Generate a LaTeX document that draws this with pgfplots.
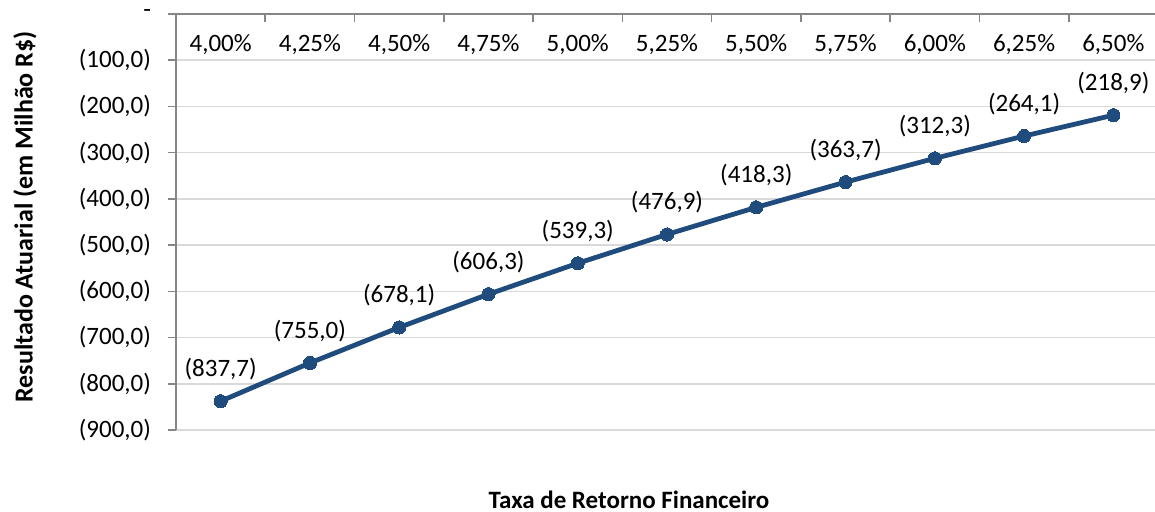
\documentclass[border=0pt]{standalone}
\usepackage{fontspec}
\setmainfont{Carlito}
\usepackage{pgfplots}
\pgfplotsset{compat=1.18}
\usepackage{pgfplotstable}
\definecolor{serie}{RGB}{31,75,125}
\definecolor{gridc}{RGB}{217,217,217}
\definecolor{axisc}{RGB}{134,134,134}
\pgfplotstableread{
x y lab
0 -837.7 (837,7)
1 -755.0 (755,0)
2 -678.1 (678,1)
3 -606.3 (606,3)
4 -539.3 (539,3)
5 -476.9 (476,9)
6 -418.3 (418,3)
7 -363.7 (363,7)
8 -312.3 (312,3)
9 -264.1 (264,1)
10 -218.9 (218,9)
}\datatable
\begin{document}
\begin{tikzpicture}[x=1pt,y=1pt,font=\fontsize{12.5}{15}\selectfont]
\path[use as bounding box] (0,0) rectangle (577.5,256);
\begin{axis}[
  at={(88pt,41pt)}, anchor=south west,
  scale only axis, width=491pt, height=208pt,
  xmin=-0.5, xmax=10.5, ymin=-900, ymax=0,
  axis x line*=top, axis y line*=left,
  axis line style={draw=axisc, line width=0.8pt},
  xtick={0,...,10},
  xticklabels={{4,00\%},{4,25\%},{4,50\%},{4,75\%},{5,00\%},{5,25\%},{5,50\%},{5,75\%},{6,00\%},{6,25\%},{6,50\%}},
  minor xtick={-0.5,0.5,...,10.5},
  xtick align=inside, ytick align=outside,
  major tick length=4pt, minor tick length=4pt,
  major x tick style={draw=none},
  minor x tick style={draw=axisc, line width=0.8pt},
  ytick={-900,-800,...,0},
  yticklabels={{(900,0)},{(800,0)},{(700,0)},{(600,0)},{(500,0)},{(400,0)},{(300,0)},{(200,0)},{(100,0)},{-\hspace{6pt}}},
  major y tick style={draw=axisc, line width=0.8pt},
  ymajorgrids, grid style={draw=gridc, line width=0.8pt},
  xticklabel style={anchor=center, yshift=-15.5pt},
  yticklabel style={xshift=-5pt},
  clip=false,
  nodes near coords,
  point meta=explicit symbolic,
  nodes near coords style={anchor=center, yshift=16pt, text=black},
]
\addplot[color=serie, line width=2.4pt, mark=*, mark size=3.3pt, mark options={fill=serie, line width=0pt}]
  table[x=x, y=y, meta=lab] {\datatable};
\end{axis}
\node[font=\fontsize{12.5}{15}\selectfont\bfseries] at (314.5,6) {Taxa de Retorno Financeiro};
\node[font=\fontsize{13}{15}\selectfont\bfseries, rotate=90] at (12.5,147.5) {Resultado Atuarial (em Milhão R\$)};
\end{tikzpicture}
\end{document}
